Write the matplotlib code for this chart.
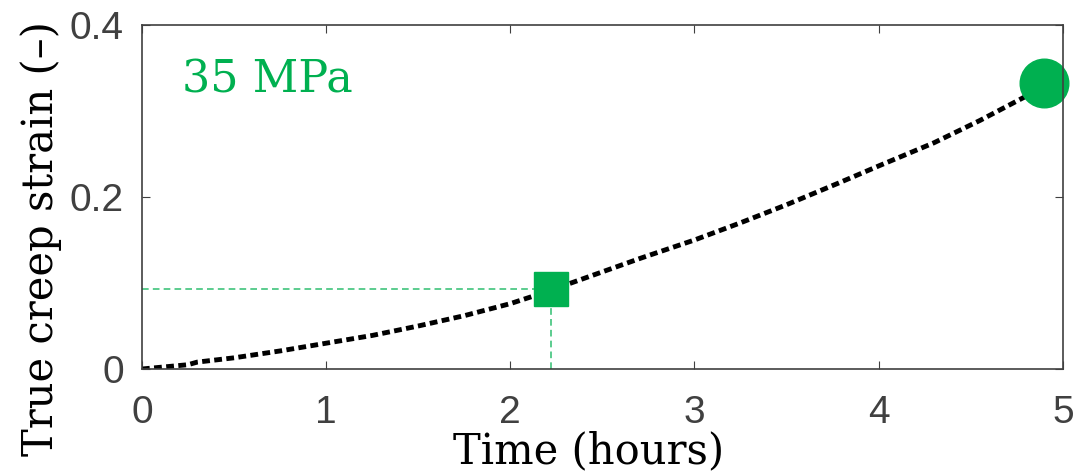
import numpy as np
import matplotlib.pyplot as plt

# creep curve
time_h = [0, 0.1, 0.25, 0.3, 0.5, 0.75, 1.0, 1.25, 1.5, 1.75, 2.0, 2.2, 2.33,
          2.71, 3.0, 3.25, 3.5, 3.78, 4.01, 4.3, 4.55, 4.79, 4.9]
strain = [0, 0.002, 0.005, 0.008, 0.013, 0.021, 0.030, 0.039, 0.050, 0.062,
          0.076, 0.090, 0.100, 0.129, 0.150, 0.170, 0.191, 0.216, 0.237,
          0.263, 0.289, 0.316, 0.330]

mark_x, mark_y = 2.22, 0.093       # square marker
end_x, end_y = 4.9, 0.333          # failure point
label = "35 MPa"

green = "#00B050"
tick_col = "#404040"

fig = plt.figure(figsize=(10.79, 4.76), dpi=100)
ax = fig.add_axes([0.1316, 0.2248, 0.8534, 0.7227])

ax.plot(time_h, strain, color="black", lw=3.5, linestyle=(0, (1.6, 0.9)))
ax.plot([0, mark_x], [mark_y, mark_y], color=green, lw=1.2, linestyle=(0, (4, 2.5)), alpha=0.75)
ax.plot([mark_x, mark_x], [0, mark_y], color=green, lw=1.2, linestyle=(0, (4, 2.5)), alpha=0.75)
ax.plot(mark_x, mark_y, marker="s", ms=24, color=green, mec=green)
ax.plot(end_x, end_y, marker="o", ms=35, color=green, mec=green, clip_on=False)

ax.text(0.043, 0.84, label, transform=ax.transAxes, color=green,
        fontsize=32, family="DejaVu Serif", va="center")

ax.set_xlim(0, 5)
ax.set_ylim(0, 0.4)
ax.set_xticks([0, 1, 2, 3, 4, 5])
ax.set_yticks([0, 0.2, 0.4])
ax.set_yticklabels(["0", "0.2", "0.4"])
ax.tick_params(direction="in", length=6, colors=tick_col, labelsize=28,
               top=True, right=True)
ax.tick_params(axis="x", pad=19)
ax.tick_params(axis="y", pad=13)
for lab in ax.get_xticklabels() + ax.get_yticklabels():
    lab.set_family("Liberation Sans")
for s in ax.spines.values():
    s.set_color(tick_col)
    s.set_linewidth(1.2)

ax.set_xlabel("Time (hours)", fontsize=30, family="DejaVu Serif")
ax.xaxis.set_label_coords(0.485, -0.178)
ax.set_ylabel("True creep strain (\u2013)", fontsize=30, family="DejaVu Serif")
ax.yaxis.set_label_coords(-0.087, 0.38)

fig.savefig("out.png", dpi=100)
